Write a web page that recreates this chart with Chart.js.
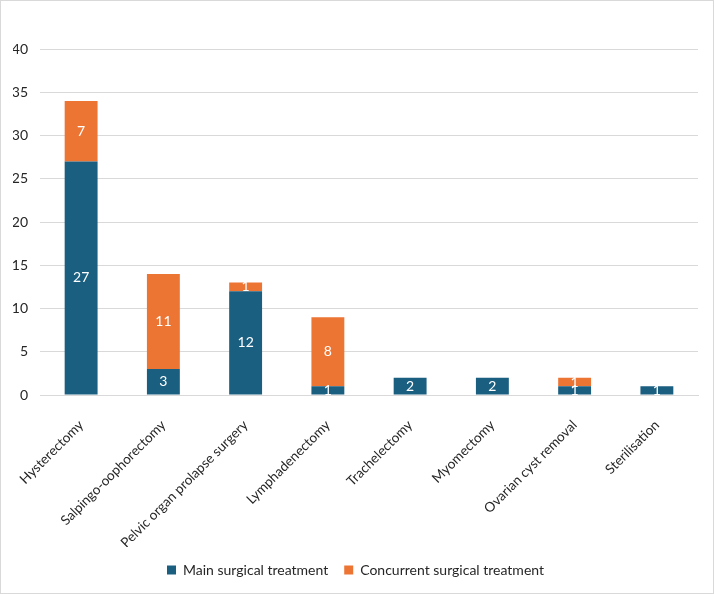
<!DOCTYPE html>
<html>
<head>
<meta charset="utf-8">
<script src="https://cdn.jsdelivr.net/npm/chart.js@4.4.1/dist/chart.umd.min.js"></script>
<style>
  html, body { margin: 0; padding: 0; background: #fff; }
  #wrap { width: 712px; height: 592px; border: 1px solid #d9d9d9; }
</style>
</head>
<body>
<div id="wrap"><canvas id="chart" width="712" height="592"></canvas></div>
<script>
// Chart data
const categories = ['Hysterectomy', 'Salpingo-oophorectomy', 'Pelvic organ prolapse surgery',
  'Lymphadenectomy', 'Trachelectomy', 'Myomectomy', 'Ovarian cyst removal', 'Sterilisation'];
const mainTreatment = [27, 3, 12, 1, 2, 2, 1, 1];
const concurrentTreatment = [7, 11, 1, 8, 0, 0, 1, 0];
const yTicks = [0, 5, 10, 15, 20, 25, 30, 35, 40];

const FONT = 'Lato, "Open Sans", sans-serif';

// white value labels in the middle of each segment
const barLabels = {
  id: 'barLabels',
  afterDatasetsDraw(chart) {
    const ctx = chart.ctx;
    ctx.save();
    ctx.fillStyle = '#ffffff';
    ctx.font = '14px ' + FONT;
    ctx.textAlign = 'center';
    ctx.textBaseline = 'middle';
    chart.data.datasets.forEach((ds, i) => {
      chart.getDatasetMeta(i).data.forEach((bar, j) => {
        const v = ds.data[j];
        if (!v) return;
        ctx.fillText(String(v), bar.x, (bar.y + bar.base) / 2);
      });
    });
    ctx.restore();
  }
};

new Chart(document.getElementById('chart'), {
  type: 'bar',
  data: {
    labels: categories,
    datasets: [
      { label: 'Main surgical treatment', data: mainTreatment, backgroundColor: '#1a5e80' },
      { label: 'Concurrent surgical treatment', data: concurrentTreatment, backgroundColor: '#ed7534' }
    ]
  },
  options: {
    responsive: false,
    animation: false,
    layout: { padding: { top: 48, right: 15, left: 12, bottom: 6 } },
    datasets: { bar: { barPercentage: 0.4, categoryPercentage: 1 } },
    scales: {
      x: {
        stacked: true,
        grid: { display: false },
        border: { color: '#d9d9d9' },
        ticks: { color: '#262626', font: { family: FONT, size: 13.5 }, maxRotation: 45, minRotation: 45, padding: 14 },
        afterFit(axis) { axis.height = 152; axis.paddingLeft = 0; axis.paddingRight = 0; }
      },
      y: {
        stacked: true,
        min: 0, max: 40,
        afterBuildTicks(axis) { axis.ticks = yTicks.map(v => ({ value: v })); },
        afterFit(axis) { axis.width = 27; },
        grid: { color: '#d9d9d9', drawTicks: false },
        border: { display: false },
        ticks: { color: '#262626', font: { family: FONT, size: 14 }, padding: 12 }
      }
    },
    plugins: {
      tooltip: { enabled: false },
      legend: {
        position: 'bottom',
        labels: {
          color: '#262626',
          font: { family: FONT, size: 14 },
          boxWidth: 9, boxHeight: 9,
          padding: 16
        }
      }
    }
  },
  plugins: [barLabels]
});
</script>
</body>
</html>
